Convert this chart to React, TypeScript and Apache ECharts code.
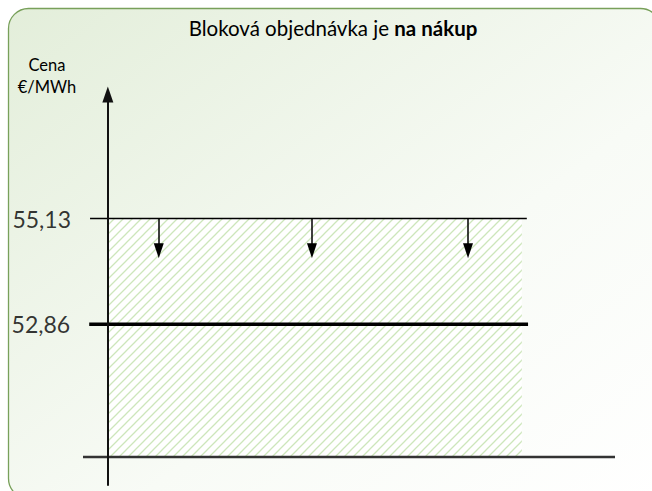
import React, { useEffect, useRef } from "react";
import * as echarts from "echarts";

// ---- data ----
const titleNormal = "Bloková objednávka je ";
const titleBold = "na nákup";
const axisTitle = ["Cena", "€/MWh"];
const yMin = 49.4;
const yMax = 57.8;
const xMin = -0.6;
const xMax = 12.25;
const baseLevel = 50; // drawn horizontal axis
const bidPrice = 55.13; // upper limit of the block order
const marketPrice = 52.86; // thick line
const priceLabels = ["55,13", "52,86"];
const bidLineX = [-0.43, 10.12];
const marketLineX = [-0.45, 10.15];
const hatchX = [0.02, 10.0];
const arrowXs = [1.23, 4.93, 8.7];
const arrowTip = 54.28;

const FONT = "Lato, 'Open Sans', sans-serif";

function makeHatch(): HTMLCanvasElement {
  const s = 9;
  const c = document.createElement("canvas");
  c.width = s;
  c.height = s;
  const ctx = c.getContext("2d")!;
  ctx.fillStyle = "#ffffff";
  ctx.fillRect(0, 0, s, s);
  ctx.strokeStyle = "#cde6bb";
  ctx.lineWidth = 1.3;
  ctx.beginPath();
  ctx.moveTo(0, s);
  ctx.lineTo(s, 0);
  ctx.moveTo(-2, 2);
  ctx.lineTo(2, -2);
  ctx.moveTo(s - 2, s + 2);
  ctx.lineTo(s + 2, s - 2);
  ctx.stroke();
  return c;
}

export default function App() {
  const ref = useRef<HTMLDivElement>(null);
  useEffect(() => {
    if (!ref.current) return;
    const chart = echarts.init(ref.current, undefined, { renderer: "svg" });
    const hatch = makeHatch();
    const option: any = {
      animation: false,
      grid: { left: 83, right: 37, top: 94.5, bottom: 6, containLabel: false },
      xAxis: {
        type: "value",
        min: xMin,
        max: xMax,
        show: false,
        axisLine: { onZero: false },
      },
      yAxis: {
        type: "value",
        min: yMin,
        max: yMax,
        z: 10,
        axisLine: {
          show: true,
          onZero: true,
          symbol: ["none", "triangle"],
          symbolSize: [11, 16],
          lineStyle: { color: "#111", width: 2 },
        },
        axisTick: { show: false },
        axisLabel: { show: false },
        splitLine: { show: false },
      },
      graphic: [
        {
          type: "rect",
          z: -10,
          silent: true,
          shape: { x: 8.5, y: 8.5, width: 652, height: 490, r: 20 },
          style: {
            fill: new echarts.graphic.LinearGradient(0, 0, 1, 1, [
              { offset: 0, color: "#e3eeda" },
              { offset: 0.6, color: "#f8fbf6" },
              { offset: 1, color: "#ffffff" },
            ]),
            stroke: "#78a05a",
            lineWidth: 1.3,
          },
        },
        {
          type: "text",
          silent: true,
          x: 333,
          y: 28,
          style: {
            text: `{n|${titleNormal}}{b|${titleBold}}`,
            align: "center",
            verticalAlign: "middle",
            rich: {
              n: { fontFamily: FONT, fontSize: 20.5, fill: "#000" },
              b: { fontFamily: FONT, fontSize: 20.5, fontWeight: "bold", fill: "#000" },
            },
          },
        },
        {
          type: "text",
          silent: true,
          x: 47,
          y: 76,
          style: {
            text: axisTitle.join("\n"),
            align: "center",
            verticalAlign: "middle",
            fontFamily: FONT,
            fontSize: 16.5,
            lineHeight: 22,
            fill: "#000",
          },
        },
      ],
      series: [
        {
          type: "line",
          silent: true,
          symbol: "none",
          z: 3,
          lineStyle: { color: "#333", width: 2.5 },
          data: [
            [xMin, baseLevel],
            [xMax, baseLevel],
          ],
          markArea: {
            silent: true,
            z: 1,
            itemStyle: { color: { image: hatch, repeat: "repeat" }, opacity: 1, borderWidth: 0 },
            data: [[{ xAxis: hatchX[0], yAxis: baseLevel }, { xAxis: hatchX[1], yAxis: bidPrice }]],
          },
        },
        {
          type: "line",
          silent: true,
          symbol: "none",
          z: 4,
          lineStyle: { color: "#000", width: 1.5 },
          data: bidLineX.map((x) => [x, bidPrice]),
        },
        {
          type: "line",
          silent: true,
          symbol: "none",
          z: 4,
          lineStyle: { color: "#000", width: 3.5 },
          data: marketLineX.map((x) => [x, marketPrice]),
        },
        {
          type: "scatter",
          silent: true,
          symbolSize: 0,
          z: 5,
          data: [
            [bidLineX[0], bidPrice],
            [marketLineX[0], marketPrice],
          ],
          label: {
            show: true,
            position: "left",
            distance: 19,
            fontFamily: FONT,
            fontSize: 23,
            color: "#000",
            formatter: (p: any) => priceLabels[p.dataIndex],
          },
        },
        {
          type: "lines",
          coordinateSystem: "cartesian2d",
          silent: true,
          z: 5,
          symbol: "none",
          lineStyle: { color: "#000", width: 1.5, opacity: 1 },
          data: arrowXs.map((x) => ({ coords: [[x, bidPrice], [x, arrowTip + 0.1]] })),
        },
        {
          type: "scatter",
          silent: true,
          z: 6,
          symbol: "path://M0,0 L10,0 L5,15 Z",
          symbolSize: [10, 15],
          symbolOffset: [0, -7.5],
          itemStyle: { color: "#000", opacity: 1 },
          data: arrowXs.map((x) => [x, arrowTip]),
        },
      ],
    };
    chart.setOption(option);
    return () => chart.dispose();
  }, []);
  return (
    <div
      ref={ref}
      style={{ position: "fixed", left: 0, top: 0, width: 652, height: 491, background: "#fff" }}
    />
  );
}
